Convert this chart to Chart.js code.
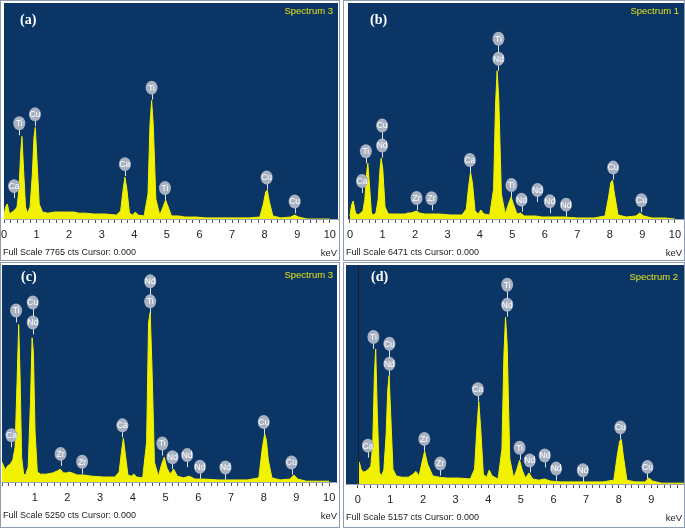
<!DOCTYPE html>
<html>
<head>
<meta charset="utf-8">
<script src="https://cdn.jsdelivr.net/npm/chart.js@4.4.0/dist/chart.umd.min.js"></script>
<style>
  body { margin: 0; background: #fff; }
  canvas { position: absolute; }
</style>
</head>
<body>
<canvas id="pa" width="340" height="261" style="left:0;top:0"></canvas>
<canvas id="pb" width="342" height="261" style="left:343px;top:0"></canvas>
<canvas id="pc" width="340" height="266" style="left:0;top:262px"></canvas>
<canvas id="pd" width="342" height="266" style="left:343px;top:262px"></canvas>
<script>
// energy grid (keV) shared by the four spectra
const energyKeV = [0.00, 0.05, 0.10, 0.17, 0.25, 0.33, 0.40, 0.46, 0.51, 0.55,
  0.60, 0.66, 0.72, 0.80, 0.87, 0.92, 0.96, 1.01, 1.08, 1.18,
  1.35, 1.55, 1.70, 1.78, 1.88, 1.97, 2.05, 2.14, 2.30, 2.50,
  2.75, 3.10, 3.45, 3.58, 3.65, 3.71, 3.77, 3.85, 3.95, 4.03,
  4.12, 4.30, 4.42, 4.48, 4.53, 4.58, 4.66, 4.78, 4.88, 4.96,
  5.04, 5.14, 5.25, 5.36, 5.55, 5.72, 5.90, 6.20, 6.60, 7.00,
  7.50, 7.85, 7.96, 8.03, 8.08, 8.14, 8.25, 8.50, 8.80, 8.92,
  9.04, 9.30, 9.70, 10.00];

// counts
const countsA = [110, 430, 540, 180, 250, 320, 430, 1070, 2330, 2970,
  1790, 430, 210, 430, 1610, 2940, 3290, 2150, 540, 250,
  210, 250, 250, 250, 250, 250, 250, 250, 210, 210,
  180, 180, 140, 290, 1000, 1500, 1070, 210, 140, 250,
  140, 110, 900, 3400, 4260, 3400, 720, 140, 430, 680,
  430, 110, 110, 110, 70, 70, 70, 40, 40, 40,
  40, 70, 540, 970, 1040, 640, 110, 40, 70, 140,
  70, 0, 0, 0];
const countsB = [90, 420, 540, 180, 120, 180, 240, 600, 1340, 1670,
  1040, 180, 120, 180, 600, 1430, 1820, 1490, 360, 150,
  150, 150, 150, 180, 180, 210, 240, 180, 150, 150,
  150, 120, 120, 300, 950, 1400, 1070, 240, 150, 270,
  150, 120, 890, 3430, 4440, 3580, 750, 150, 450, 660,
  420, 150, 180, 90, 90, 90, 60, 60, 60, 30,
  30, 90, 660, 1100, 1160, 750, 120, 60, 90, 180,
  90, 30, 30, 0];
const countsC = [480, 390, 290, 390, 430, 530, 840, 2410, 3810, 2650,
  600, 190, 170, 360, 1930, 3490, 3130, 1210, 240, 190,
  190, 220, 270, 310, 220, 220, 240, 220, 170, 170,
  140, 120, 120, 240, 720, 1060, 670, 170, 140, 190,
  120, 100, 960, 3860, 4100, 2890, 480, 140, 430, 600,
  340, 190, 310, 140, 100, 140, 70, 70, 50, 50,
  50, 100, 840, 1160, 1010, 530, 100, 50, 70, 170,
  70, 20, 20, 20];
const countsD = [510, 510, 350, 280, 300, 350, 420, 940, 2570, 3180,
  1640, 280, 190, 330, 1170, 2220, 2550, 1640, 350, 190,
  160, 160, 230, 300, 190, 510, 770, 470, 190, 160,
  140, 140, 120, 350, 1290, 1940, 1290, 230, 160, 330,
  190, 120, 820, 3040, 3930, 3280, 590, 140, 350, 560,
  330, 140, 260, 120, 90, 120, 70, 50, 50, 50,
  50, 90, 700, 1010, 1050, 660, 90, 50, 50, 140,
  70, 20, 20, 20];

const fullScaleCts = [7765, 6471, 5250, 5157];
const panelTags = ['(a)', '(b)', '(c)', '(d)'];
const spectrumNames = ['Spectrum 3', 'Spectrum 1', 'Spectrum 3', 'Spectrum 2'];

const tickLabelsA = ['0', '1', '2', '3', '4', '5', '6', '7', '8', '9', '10'];
const tickLabelsB = ['0', '1', '2', '3', '4', '5', '6', '7', '8', '9', '10'];
const tickLabelsC = ['', '1', '2', '3', '4', '5', '6', '7', '8', '9', '10'];
const tickLabelsD = ['0', '1', '2', '3', '4', '5', '6', '7', '8', '9', ''];

// element markers: name, energy, count level at the foot of the marker
const markElA = ['Ca', 'Ti', 'Cu', 'Ca', 'Ti', 'Ti', 'Cu', 'Cu'];
const markKeVA = [0.31, 0.47, 0.95, 3.71, 4.53, 4.94, 8.06, 8.92];
const markCtsA = [750, 3010, 3330, 1540, 4290, 680, 1060, 200];

const markElB = ['Ca', 'Ti', 'Nd', 'Cu', 'Zr', 'Zr', 'Ca', 'Nd', 'Ti', 'Ti', 'Nd', 'Nd', 'Nd', 'Nd', 'Cu', 'Cu'];
const markKeVB = [0.37, 0.49, 0.99, 0.99, 2.05, 2.51, 3.69, 4.57, 4.57, 4.97, 5.28, 5.77, 6.15, 6.65, 8.10, 8.97];
const markCtsB = [780, 1670, 1840, 1840, 270, 260, 1410, 4440, 4440, 660, 220, 510, 170, 70, 1180, 200];

const markElC = ['Ca', 'Ti', 'Nd', 'Cu', 'Zr', 'Zr', 'Ca', 'Ti', 'Nd', 'Ti', 'Nd', 'Nd', 'Nd', 'Nd', 'Cu', 'Cu'];
const markKeVC = [0.29, 0.43, 0.94, 0.94, 1.79, 2.45, 3.68, 4.53, 4.53, 4.90, 5.21, 5.66, 6.05, 6.83, 8.00, 8.85];
const markCtsC = [840, 3860, 3570, 3570, 390, 200, 1080, 4080, 4080, 640, 310, 360, 80, 60, 1160, 180];

const markElD = ['Ca', 'Ti', 'Nd', 'Cu', 'Zr', 'Zr', 'Ca', 'Nd', 'Ti', 'Ti', 'Nd', 'Nd', 'Nd', 'Nd', 'Cu', 'Cu'];
const markKeVD = [0.31, 0.48, 0.97, 0.97, 2.04, 2.53, 3.68, 4.58, 4.58, 4.96, 5.27, 5.73, 6.08, 6.90, 8.05, 8.88];
const markCtsD = [620, 3180, 2550, 2550, 780, 200, 1950, 3940, 3940, 570, 270, 390, 80, 40, 1050, 120];

const BLUE = '#0b3565';
const YELLOW = '#f2f200';

// background, frame, texts and element markers
const decor = {
  id: 'decor',
  beforeDraw(chart, args, o) {
    const { ctx, chartArea: a } = chart;
    ctx.save();
    ctx.fillStyle = '#fff';
    ctx.fillRect(0, 0, chart.width, chart.height);
    ctx.fillStyle = BLUE;
    ctx.fillRect(a.left, a.top, a.width, a.height);
    ctx.restore();
  },
  afterDatasetsDraw(chart, args, o) {
    const { ctx, scales: { x, y }, chartArea: a } = chart;
    ctx.save();
    if (o.zeroLine) {
      const zx = Math.round(x.getPixelForValue(0)) + 0.5;
      ctx.strokeStyle = '#1b2030';
      ctx.lineWidth = 1;
      ctx.beginPath();
      ctx.moveTo(zx, a.top);
      ctx.lineTo(zx, a.bottom);
      ctx.stroke();
    }
    const seen = {};
    o.els.forEach((el, i) => {
      const key = o.kev[i] + '_' + o.cts[i];
      const k = seen[key] = seen[key] === undefined ? 0 : seen[key] + 1;
      const px = x.getPixelForValue(o.kev[i]);
      const foot = y.getPixelForValue(o.cts[i]);
      const cy = foot - 12 - k * 20;
      const sx = Math.round(px) + 0.5;
      ctx.strokeStyle = '#dde2ea';
      ctx.lineWidth = 1;
      ctx.beginPath();
      ctx.moveTo(sx, cy + 6);
      ctx.lineTo(sx, k === 0 ? foot : cy + 14);
      ctx.stroke();
      ctx.fillStyle = '#a8b1c2';
      ctx.beginPath();
      ctx.ellipse(px, cy, 6, 7, 0, 0, Math.PI * 2);
      ctx.fill();
      ctx.fillStyle = '#fff';
      ctx.font = '8.5px "Liberation Sans", Arial';
      ctx.textAlign = 'center';
      ctx.textBaseline = 'middle';
      ctx.fillText(el, px, cy + 0.5);
    });
    ctx.restore();
  },
  afterDraw(chart, args, o) {
    const { ctx, chartArea: a } = chart;
    ctx.save();
    ctx.strokeStyle = '#8d9bb0';
    ctx.lineWidth = 1;
    ctx.strokeRect(0.5, 0.5, chart.width - 1, chart.height - 1);
    ctx.fillStyle = '#fff';
    ctx.font = 'bold 14px "Liberation Serif", "Times New Roman", serif';
    ctx.textAlign = 'left';
    ctx.textBaseline = 'middle';
    ctx.fillText(o.tag, o.tagX, o.tagY);
    ctx.fillStyle = '#e2e21c';
    ctx.font = '9.5px "Liberation Sans", Arial';
    ctx.textAlign = 'right';
    ctx.fillText(o.name, o.nameX, o.nameY);
    ctx.fillStyle = '#222';
    ctx.font = '9px "Liberation Sans", Arial';
    ctx.textAlign = 'left';
    ctx.fillText('Full Scale ' + o.full + ' cts Cursor: 0.000', 3, a.bottom + 34);
    ctx.font = '9.5px "Liberation Sans", Arial';
    ctx.textAlign = 'right';
    ctx.fillText('keV', chart.width - 3, a.bottom + 34);
    ctx.restore();
  }
};

function makePanel(id, counts, full, tickLabels, xMin, xMax, pad, axisH, deco) {
  new Chart(document.getElementById(id), {
    type: 'line',
    data: {
      labels: energyKeV,
      datasets: [{
        data: energyKeV.map((e, i) => ({ x: e, y: counts[i] })),
        borderColor: YELLOW,
        backgroundColor: YELLOW,
        borderWidth: 1,
        pointRadius: 0,
        fill: 'origin',
        tension: 0
      }]
    },
    options: {
      responsive: false,
      animation: false,
      devicePixelRatio: 1,
      layout: { padding: pad, autoPadding: false },
      plugins: {
        legend: { display: false },
        tooltip: { enabled: false },
        decor: deco
      },
      scales: {
        x: {
          type: 'linear',
          min: xMin,
          max: xMax,
          afterBuildTicks: (scale) => {
            const t = [];
            for (let i = 0; i <= 50; i++) {
              if (i / 5 <= xMax) t.push({ value: i / 5 });
            }
            scale.ticks = t;
          },
          afterFit: (scale) => {
            scale.height = axisH;
            scale.paddingLeft = 0;
            scale.paddingRight = 0;
          },
          grid: { drawOnChartArea: false, drawTicks: true, tickLength: 4, color: '#555', tickColor: '#555' },
          border: { display: true, color: '#9aa4b2' },
          ticks: {
            autoSkip: false,
            maxRotation: 0,
            padding: 5,
            color: '#222',
            font: { family: '"Liberation Sans", Arial', size: 11 },
            callback: (v) => Math.abs(v - Math.round(v)) < 1e-6 ? tickLabels[Math.round(v)] : ''
          }
        },
        y: { display: false, min: 0, max: full }
      }
    },
    plugins: [decor]
  });
}

makePanel('pa', countsA, fullScaleCts[0], tickLabelsA, 0, 10.25,
  { left: 4, right: 2, top: 3, bottom: 0 }, 42,
  { tag: panelTags[0], tagX: 20, tagY: 20, name: spectrumNames[0], nameX: 333, nameY: 11, full: fullScaleCts[0],
    els: markElA, kev: markKeVA, cts: markCtsA });
makePanel('pb', countsB, fullScaleCts[1], tickLabelsB, -0.06, 10.28,
  { left: 5, right: 1, top: 3, bottom: 0 }, 42,
  { tag: panelTags[1], tagX: 27, tagY: 20, name: spectrumNames[1], nameX: 336, nameY: 11, full: fullScaleCts[1],
    els: markElB, kev: markKeVB, cts: markCtsB });
makePanel('pc', countsC, fullScaleCts[2], tickLabelsC, 0, 10.24,
  { left: 2, right: 3, top: 3, bottom: 0 }, 46,
  { tag: panelTags[2], tagX: 21, tagY: 15, name: spectrumNames[2], nameX: 333, nameY: 13, full: fullScaleCts[2],
    els: markElC, kev: markKeVC, cts: markCtsC });
makePanel('pd', countsD, fullScaleCts[3], tickLabelsD, -0.36, 10.0,
  { left: 3, right: 1, top: 3, bottom: 0 }, 44,
  { tag: panelTags[3], tagX: 28, tagY: 15, name: spectrumNames[3], nameX: 335, nameY: 15, full: fullScaleCts[3],
    els: markElD, kev: markKeVD, cts: markCtsD, zeroLine: true });
</script>
</body>
</html>
